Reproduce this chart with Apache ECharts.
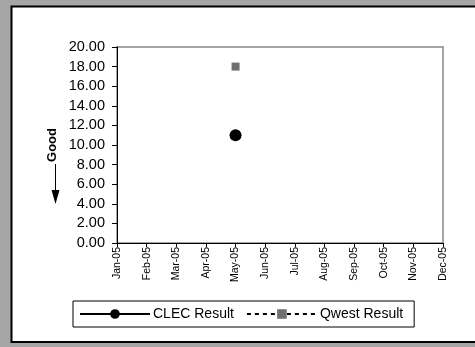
<!DOCTYPE html>
<html>
<head>
<meta charset="utf-8">
<script src="https://cdn.jsdelivr.net/npm/echarts@6/dist/echarts.min.js"></script>
<style>
  html, body { margin: 0; padding: 0; background: #a6a6a6; }
  #chart { width: 475px; height: 347px; }
</style>
</head>
<body>
<div id="chart"></div>
<script>
// 月份分类
const months = ['Jan-05', 'Feb-05', 'Mar-05', 'Apr-05', 'May-05', 'Jun-05',
  'Jul-05', 'Aug-05', 'Sep-05', 'Oct-05', 'Nov-05', 'Dec-05']
// 两组结果，只有五月有数
const clecResult = [null, null, null, null, 11.0, null, null, null, null, null, null, null]
const qwestResult = [null, null, null, null, 18.0, null, null, null, null, null, null, null]
const yTicks = { min: 0, max: 20, interval: 2 }

const chart = echarts.init(document.getElementById('chart'))
const font = 'Arial, "Liberation Sans", sans-serif'

const option = {
  animation: false,
  backgroundColor: '#a6a6a6',
  textStyle: { fontFamily: font },
  graphic: [
    {
      type: 'rect',
      z: -10,
      shape: { x: 11.5, y: 6.5, width: 470, height: 335.5 },
      style: { fill: '#fff', stroke: '#000', lineWidth: 2 }
    },
    {
      type: 'text',
      x: 52, y: 145,
      rotation: Math.PI / 2,
      style: {
        text: 'Good',
        font: 'bold 13px ' + font,
        fill: '#000',
        align: 'center',
        verticalAlign: 'middle'
      }
    },
    {
      type: 'line',
      shape: { x1: 55.5, y1: 164, x2: 55.5, y2: 192 },
      style: { stroke: '#000', lineWidth: 1 }
    },
    {
      type: 'polygon',
      shape: { points: [[51.5, 190], [59.5, 190], [55.5, 204]] },
      style: { fill: '#000' }
    }
  ],
  grid: {
    left: 117, right: 32, top: 47, bottom: 104,
    show: true,
    borderColor: '#888',
    borderWidth: 1.5,
    backgroundColor: 'transparent'
  },
  legend: {
    left: 73, top: 301,
    borderColor: '#000',
    borderWidth: 1,
    padding: [6, 11, 6, 6],
    itemGap: 12,
    itemWidth: 70,
    itemHeight: 12,
    textStyle: { fontSize: 14, color: '#000', fontFamily: font, padding: [0, 0, 0, -2] },
    data: ['CLEC Result', 'Qwest Result']
  },
  xAxis: {
    type: 'category',
    data: months,
    boundaryGap: false,
    axisLine: { lineStyle: { color: '#000', width: 1 } },
    axisTick: { length: 4, lineStyle: { color: '#000' } },
    axisLabel: {
      rotate: 90, fontSize: 10.5, color: '#000', margin: 4, interval: 0, fontFamily: font
    },
    splitLine: { show: false }
  },
  yAxis: {
    type: 'value',
    min: yTicks.min, max: yTicks.max, interval: yTicks.interval,
    axisLine: { show: true, lineStyle: { color: '#000', width: 1 } },
    axisTick: { show: true, length: 5, lineStyle: { color: '#000' } },
    axisLabel: {
      fontSize: 14.5, color: '#000', margin: 12, fontFamily: font,
      formatter: v => v.toFixed(2)
    },
    splitLine: { show: false }
  },
  series: [
    {
      name: 'CLEC Result',
      type: 'line',
      data: clecResult,
      symbol: 'circle',
      symbolSize: 12,
      itemStyle: { color: '#000' },
      lineStyle: { color: '#000', width: 1 }
    },
    {
      name: 'Qwest Result',
      type: 'line',
      data: qwestResult,
      symbol: 'rect',
      symbolSize: 8,
      itemStyle: { color: '#707070' },
      lineStyle: { color: '#000', width: 1, type: [4, 4] }
    }
  ]
}

chart.setOption(option)
</script>
</body>
</html>
